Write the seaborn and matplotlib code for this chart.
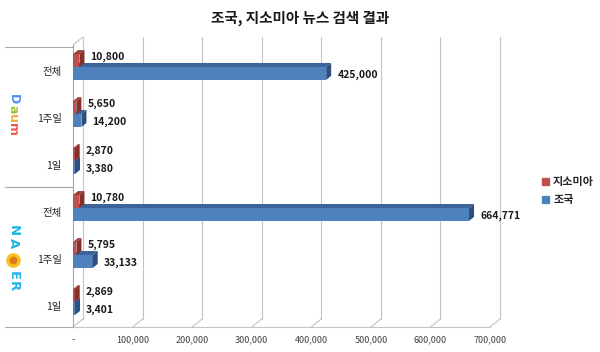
import matplotlib
matplotlib.use('Agg')
import numpy as np
import pandas as pd
import matplotlib.pyplot as plt
import matplotlib.transforms as mtrans
from matplotlib.patches import Polygon, Patch
import seaborn as sns

# ---------------- data ----------------
portals = ['Daum', 'Daum', 'Daum', 'Naver', 'Naver', 'Naver']
periods = ['전체', '1주일', '1일', '전체', '1주일', '1일']
gsomia = [10800, 5650, 2870, 10780, 5795, 2869]
cho_kuk = [425000, 14200, 3380, 664771, 33133, 3401]
series_names = ['지소미아', '조국']
x_ticks = [0, 100000, 200000, 300000, 400000, 500000, 600000, 700000]
x_tick_labels = ['-', '100,000', '200,000', '300,000', '400,000', '500,000', '600,000', '700,000']
title = '조국, 지소미아 뉴스 검색 결과'

RED, BLUE = '#C0504D', '#4F81BD'
RED_TOP, RED_SIDE = '#9E3C39', '#85302D'
BLUE_TOP, BLUE_SIDE = '#3D6499', '#2E4F7D'
GRID = '#C4C4C4'
PANEL = '#A6A6A6'

rows = [f'{p} {t}' for p, t in zip(portals, periods)]
df = pd.DataFrame({
    'row': rows * 2,
    'series': [series_names[0]] * 6 + [series_names[1]] * 6,
    'value': gsomia + cho_kuk,
})

sns.set_theme(style='white')
plt.rcParams['font.family'] = ['Noto Sans CJK KR', 'DejaVu Sans']

fig = plt.figure(figsize=(6, 3.52), dpi=100)

# overlay in pixel coords for the left panel decorations
ov = fig.add_axes([0, 0, 1, 1], zorder=0)
ov.set_xlim(0, 600)
ov.set_ylim(352, 0)
ov.axis('off')

ax = fig.add_axes([73 / 600, 25 / 352, 417 / 600, 282 / 352], zorder=1)
ax.patch.set_alpha(0)

sns.barplot(data=df, y='row', x='value', hue='series', hue_order=series_names,
            palette=[RED, BLUE], orient='h', width=0.55, saturation=1,
            legend=False, linewidth=0, edgecolor='none', ax=ax)

Y_BOT, Y_TOP = 5.532, -0.468
ax.set_xlim(0, 700000)
ax.set_ylim(Y_BOT, Y_TOP)

to_disp = ax.transData.transform
inv = ax.transData.inverted().transform


def shifted(points, dx, dy):
    d = to_disp(points) + np.array([dx, dy])
    return inv(d)


# ---------------- back grid (3D walls) ----------------
GDX, GDY = 10, 8
for v in x_ticks:
    back = shifted([(v, Y_BOT), (v, Y_TOP)], GDX, GDY)
    ax.plot(back[:, 0], back[:, 1], color=GRID, lw=0.8, zorder=1, clip_on=False)
    diag = np.vstack([[(v, Y_BOT)], shifted([(v, Y_BOT)], GDX, GDY)])
    ax.plot(diag[:, 0], diag[:, 1], color=GRID, lw=0.8, zorder=1, clip_on=False)
top_diag = np.vstack([[(0, Y_TOP)], shifted([(0, Y_TOP)], GDX, GDY)])
ax.plot(top_diag[:, 0], top_diag[:, 1], color=GRID, lw=0.8, zorder=1, clip_on=False)

# ---------------- 3D bar faces ----------------
BDX, BDY = 5, 4
faces = [(RED_TOP, RED_SIDE, 4), (BLUE_TOP, BLUE_SIDE, 3)]
for container, (top_c, side_c, z) in zip(ax.containers, faces):
    for bar in container:
        bar.set_zorder(z)
        x0, y0, w, h = bar.get_x(), bar.get_y(), bar.get_width(), bar.get_height()
        (xa, ya), (xb, yb) = to_disp([(x0, y0), (x0 + w, y0 + h)])
        left, right = min(xa, xb), max(xa, xb)
        top, bot = max(ya, yb), min(ya, yb)
        top_face = [(left, top), (right, top), (right + BDX, top + BDY), (left + BDX, top + BDY)]
        side_face = [(right, top), (right, bot), (right + BDX, bot + BDY), (right + BDX, top + BDY)]
        ax.add_patch(Polygon(inv(top_face), closed=True, fc=top_c, ec='none', zorder=z))
        ax.add_patch(Polygon(inv(side_face), closed=True, fc=side_c, ec='none', zorder=z))

# ---------------- value labels ----------------
for container, yoff in zip(ax.containers, [3.0, -1.2]):
    for bar, val in zip(container, container.datavalues):
        yc = bar.get_y() + bar.get_height() / 2
        ax.annotate(f'{int(val):,}', (val, yc), xytext=(8, yoff), textcoords='offset points',
                    ha='left', va='center', fontsize=7.5, fontweight='bold',
                    color='#1A1A1A', zorder=6, annotation_clip=False)

# ---------------- axes styling ----------------
for s in ['top', 'right']:
    ax.spines[s].set_visible(False)
ax.spines['left'].set_color(PANEL)
ax.spines['left'].set_linewidth(0.8)
ax.spines['bottom'].set_color(GRID)
ax.spines['bottom'].set_linewidth(0.8)
ax.set_xlabel('')
ax.set_ylabel('')
ax.set_xticks(x_ticks)
ax.set_xticklabels(x_tick_labels, fontsize=6.5, color='#404040')
ax.set_yticks(range(len(periods)))
ax.set_yticklabels(periods, fontsize=7.5, color='#262626')
ax.tick_params(axis='y', length=0, pad=8)
ax.tick_params(axis='x', length=0, pad=6)
down = mtrans.ScaledTranslation(0, -0.04, fig.dpi_scale_trans)
for lab in ax.get_yticklabels():
    lab.set_transform(lab.get_transform() + down)

# left panel lines
for yy in [47, 187, 327]:
    ov.plot([5, 73], [yy, yy], color=PANEL, lw=0.8)

# portal logos (vertical)
for ch, yy, c in zip('Daum', [99, 109, 118.5, 129.5], ['#4C8FEA', '#9BC33A', '#F4A736', '#EB5A4F']):
    ov.text(13, yy, ch, rotation=-90, ha='center', va='center', fontsize=9,
            fontweight='heavy', color=c, family='DejaVu Sans')
for ch, yy in zip('NAER', [231, 243, 276, 286]):
    ov.text(13, yy, ch, rotation=-90, ha='center', va='center', fontsize=9.5,
            fontweight='heavy', color='#22B5E8', family='DejaVu Sans')
ov.scatter([13], [260], s=90, color='#F6C21B', zorder=3)
ov.scatter([13], [260], s=22, color='#E07B1E', zorder=4)

# legend and title
fig.legend([Patch(color=RED), Patch(color=BLUE)], series_names, loc='center left',
           bbox_to_anchor=(532 / 600, 1 - 191 / 352), frameon=False,
           prop=dict(size=8, weight='bold'), handlelength=0.6, handleheight=0.6,
           handletextpad=0.4, labelspacing=0.45)
fig.text(0.5, 1 - 18 / 352, title, ha='center', va='center', fontsize=10.5,
         fontweight='bold', color='#1A1A1A')

fig.savefig('out.png', dpi=100)
